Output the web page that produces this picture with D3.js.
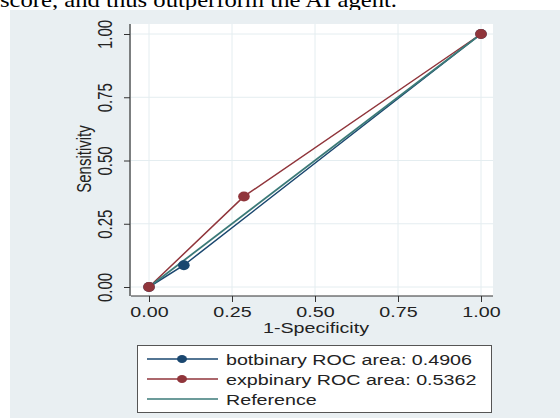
<!DOCTYPE html>
<meta charset="utf-8">
<head>
    <title>ROC comparison</title>
    <script type="text/javascript" src="https://cdn.jsdelivr.net/npm/d3@7"></script>
    <style>
        body { margin: 0; background: #ffffff; }
        svg text { font-family: "Liberation Sans", Arial, sans-serif; fill: #222; }
        .caption { font-family: "Liberation Serif", "Times New Roman", serif; fill: #000; }
    </style>
</head>
<body>
<script>
    // data
    var botX = [0, 0.105, 1];
    var botY = [0, 0.086, 1];
    var expX = [0, 0.286, 1];
    var expY = [0, 0.358, 1];
    var refX = [0, 1];
    var refY = [0, 1];
    var ticks = [0, 0.25, 0.5, 0.75, 1];
    var legendLabels = ["botbinary ROC area: 0.4906", "expbinary ROC area: 0.5362", "Reference"];

    var width = 560, height = 418;
    var sx = 1.312; // the picture is stretched sideways

    var navy = "#1a476f", maroon = "#90353b", teal = "#3b7a78";

    var svg = d3.select("body").append("svg")
        .attr("width", width)
        .attr("height", height);

    // caption from the page above
    svg.append("text")
        .attr("class", "caption")
        .attr("x", 0)
        .attr("y", 7)
        .attr("font-size", 21)
        .attr("textLength", 397)
        .attr("lengthAdjust", "spacingAndGlyphs")
        .text("score, and thus outperform the AI agent.");

    // graph region
    svg.append("rect")
        .attr("x", 10).attr("y", 10)
        .attr("width", width - 10).attr("height", height - 10)
        .attr("fill", "#e9eff2");

    var x = d3.scaleLinear().domain([0, 1]).range([149, 481]);
    var y = d3.scaleLinear().domain([0, 1]).range([287, 34]);

    // plot region
    svg.append("rect")
        .attr("x", 131).attr("y", 24)
        .attr("width", 362).attr("height", 272)
        .attr("fill", "#ffffff");

    // grid
    svg.append("g").selectAll("line.gx")
        .data(ticks).enter().append("line")
        .attr("x1", d => x(d)).attr("x2", d => x(d))
        .attr("y1", 24).attr("y2", 296)
        .attr("stroke", "#e4edf0").attr("stroke-width", 1);
    svg.append("g").selectAll("line.gy")
        .data(ticks).enter().append("line")
        .attr("x1", 131).attr("x2", 493)
        .attr("y1", d => y(d)).attr("y2", d => y(d))
        .attr("stroke", "#e4edf0").attr("stroke-width", 1);

    // axes
    var yAxis = svg.append("g")
        .attr("transform", "translate(130,0)")
        .call(d3.axisLeft(y).tickValues(ticks).tickSize(6).tickFormat(d3.format(".2f")));
    yAxis.select(".domain").remove();
    yAxis.selectAll(".tick line").attr("stroke", "#333");
    yAxis.selectAll(".tick text")
        .attr("x", null).attr("dy", null)
        .attr("text-anchor", "middle")
        .attr("font-size", 15)
        .attr("fill", "#222")
        .attr("transform", "translate(-18,0) scale(" + sx + ",1) rotate(-90)");

    var xAxis = svg.append("g")
        .attr("transform", "translate(0,296)")
        .call(d3.axisBottom(x).tickValues(ticks).tickSize(6).tickFormat(d3.format(".2f")));
    xAxis.select(".domain").remove();
    xAxis.selectAll(".tick line").attr("stroke", "#333");
    xAxis.selectAll(".tick text")
        .attr("y", null).attr("dy", null)
        .attr("text-anchor", "middle")
        .attr("font-size", 15)
        .attr("fill", "#222")
        .attr("transform", "translate(0,21) scale(" + sx + ",1)");

    svg.append("line")
        .attr("x1", 130).attr("x2", 130).attr("y1", 24).attr("y2", 296)
        .attr("stroke", "#333").attr("stroke-width", 1.2);
    svg.append("line")
        .attr("x1", 131).attr("x2", 493).attr("y1", 296).attr("y2", 296)
        .attr("stroke", "#333").attr("stroke-width", 1.2);

    // axis titles
    svg.append("text")
        .attr("text-anchor", "middle")
        .attr("font-size", 15)
        .attr("transform", "translate(316,333) scale(" + sx + ",1)")
        .text("1-Specificity");
    svg.append("text")
        .attr("text-anchor", "middle")
        .attr("font-size", 15)
        .attr("transform", "translate(91,159) scale(" + sx + ",1) rotate(-90)")
        .text("Sensitivity");

    // curves
    var line = d3.line().x(d => x(d[0])).y(d => y(d[1]));
    var bot = d3.zip(botX, botY), exp = d3.zip(expX, expY), ref = d3.zip(refX, refY);

    svg.append("path").datum(bot).attr("d", line)
        .attr("fill", "none").attr("stroke", navy).attr("stroke-width", 1.5);
    svg.append("path").datum(exp).attr("d", line)
        .attr("fill", "none").attr("stroke", maroon).attr("stroke-width", 1.5);
    svg.append("path").datum(ref).attr("d", line)
        .attr("fill", "none").attr("stroke", teal).attr("stroke-width", 1.8);

    svg.append("g").selectAll("ellipse")
        .data(bot).enter().append("ellipse")
        .attr("cx", d => x(d[0])).attr("cy", d => y(d[1]))
        .attr("rx", 5.8).attr("ry", 5)
        .attr("fill", navy);
    svg.append("g").selectAll("ellipse")
        .data(exp).enter().append("ellipse")
        .attr("cx", d => x(d[0])).attr("cy", d => y(d[1]))
        .attr("rx", 5.8).attr("ry", 5)
        .attr("fill", maroon);

    // legend
    var leg = svg.append("g");
    leg.append("rect")
        .attr("x", 137.5).attr("y", 345.5)
        .attr("width", 354).attr("height", 67)
        .attr("fill", "#ffffff")
        .attr("stroke", "#555").attr("stroke-width", 1);

    var legColors = [navy, maroon, teal];
    var rows = leg.selectAll("g.row")
        .data(legendLabels).enter().append("g")
        .attr("transform", (d, i) => "translate(0," + (359 + i * 20) + ")");
    rows.append("line")
        .attr("x1", 147).attr("x2", 218).attr("y1", 0).attr("y2", 0)
        .attr("stroke", (d, i) => legColors[i]).attr("stroke-width", 1.4);
    rows.filter((d, i) => i < 2).append("ellipse")
        .attr("cx", 182).attr("cy", 0)
        .attr("rx", 5).attr("ry", 4)
        .attr("fill", (d, i) => legColors[i]);
    rows.append("text")
        .attr("font-size", 15)
        .attr("transform", "translate(226,5.5) scale(" + sx + ",1)")
        .text(d => d);
</script>
</body>
</html>
